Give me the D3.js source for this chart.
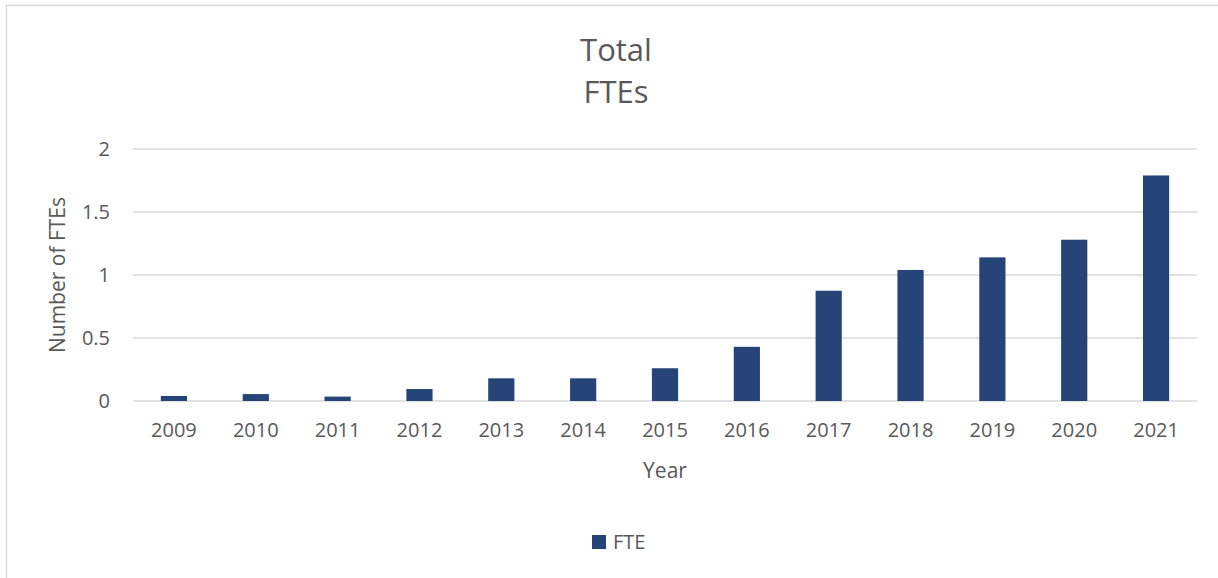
<!DOCTYPE html>
<html>
<head>
<meta charset="utf-8">
<script src="https://cdn.jsdelivr.net/npm/d3@7"></script>
<style>
  body { margin: 0; background: #fff; }
  svg { display: block; font-family: "Open Sans", sans-serif; }
</style>
</head>
<body>
<svg id="chart" width="1218" height="578"></svg>
<script>
var years = ["2009", "2010", "2011", "2012", "2013", "2014", "2015", "2016", "2017", "2018", "2019", "2020", "2021"];
var fte = [0.04, 0.055, 0.035, 0.095, 0.18, 0.18, 0.26, 0.43, 0.875, 1.04, 1.14, 1.28, 1.79];
var yTicks = [0, 0.5, 1, 1.5, 2];
var barColor = "#264478";
var textColor = "#595959";

var svg = d3.select("#chart");

// chart area border
svg.append("rect")
  .attr("x", 6.5).attr("y", 5.5)
  .attr("width", 1240).attr("height", 600)
  .attr("fill", "none")
  .attr("stroke", "#d9d9d9")
  .attr("stroke-width", 1.5);

var margin = { top: 149, left: 133, right: 21, bottom: 177 };
var width = 1218 - margin.left - margin.right;
var height = 578 - margin.top - margin.bottom;

var g = svg.append("g")
  .attr("transform", "translate(" + margin.left + "," + margin.top + ")");

var x = d3.scaleBand().domain(years).range([0, width]).paddingInner(0.68).paddingOuter(0.34);
var y = d3.scaleLinear().domain([0, 2]).range([height, 0]);

// gridlines
g.append("g")
  .selectAll("line")
  .data(yTicks)
  .join("line")
  .attr("x1", 0).attr("x2", width)
  .attr("y1", function(d) { return y(d); })
  .attr("y2", function(d) { return y(d); })
  .attr("stroke", "#d9d9d9")
  .attr("stroke-width", 1.5);

// y axis labels
var yAxis = g.append("g")
  .call(d3.axisLeft(y).tickValues(yTicks).tickSize(0).tickPadding(23).tickFormat(d3.format("")));
yAxis.select(".domain").remove();
yAxis.selectAll("text").attr("fill", textColor).style("font-size", "20px").style("font-family", "Open Sans");

// x axis labels
var xAxis = g.append("g")
  .attr("transform", "translate(0," + height + ")")
  .call(d3.axisBottom(x).tickSize(0).tickPadding(22));
xAxis.select(".domain").remove();
xAxis.selectAll("text").attr("fill", textColor).style("font-size", "20px").style("font-family", "Open Sans");

// bars
g.selectAll(".bar")
  .data(fte)
  .join("rect")
  .attr("class", "bar")
  .attr("x", function(d, i) { return x(years[i]); })
  .attr("width", x.bandwidth())
  .attr("y", function(d) { return y(d); })
  .attr("height", function(d) { return height - y(d); })
  .attr("fill", barColor);

// title
svg.append("text")
  .attr("x", 616).attr("y", 61)
  .attr("text-anchor", "middle")
  .attr("fill", textColor)
  .style("font-size", "31px")
  .text("Total");
svg.append("text")
  .attr("x", 616).attr("y", 103)
  .attr("text-anchor", "middle")
  .attr("fill", textColor)
  .style("font-size", "31px")
  .text("FTEs");

// axis titles
svg.append("text")
  .attr("transform", "translate(65,275) rotate(-90)")
  .attr("text-anchor", "middle")
  .attr("fill", textColor)
  .style("font-size", "21px")
  .text("Number of FTEs");

svg.append("text")
  .attr("x", margin.left + width / 2).attr("y", 478)
  .attr("text-anchor", "middle")
  .attr("fill", textColor)
  .style("font-size", "21px")
  .text("Year");

// legend
svg.append("rect")
  .attr("x", 592).attr("y", 535)
  .attr("width", 14).attr("height", 14)
  .attr("fill", barColor);
svg.append("text")
  .attr("x", 613).attr("y", 549)
  .attr("fill", textColor)
  .style("font-size", "20px")
  .text("FTE");
</script>
</body>
</html>
